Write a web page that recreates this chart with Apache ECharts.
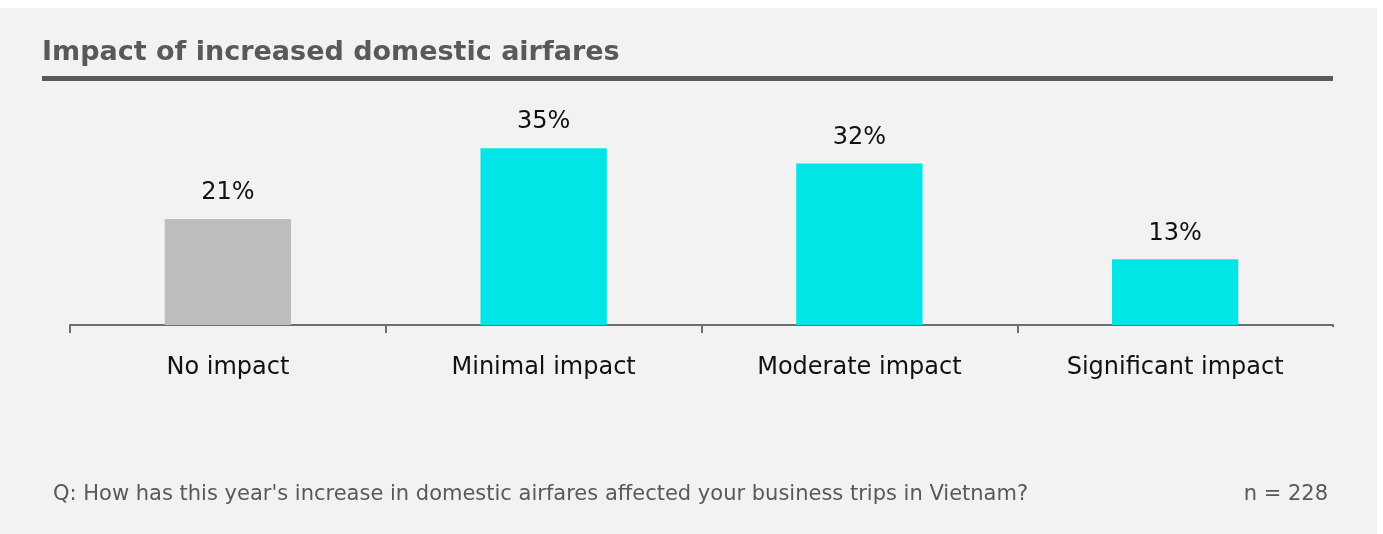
<!DOCTYPE html>
<html>
<head>
<meta charset="utf-8">
<style>
  html, body { margin: 0; padding: 0; background: #ffffff; }
  #chart { width: 1383px; height: 534px; }
</style>
<script src="https://cdn.jsdelivr.net/npm/echarts@6/dist/echarts.min.js"></script>
</head>
<body>
<div id="chart"></div>
<script>
const categories = ['No impact', 'Minimal impact', 'Moderate impact', 'Significant impact'];
const shares = [21, 35, 32, 13];
const barColors = ['#bcbdbf', '#00e6e6', '#00e6e6', '#00e6e6'];
const titleText = 'Impact of increased domestic airfares';
const questionText = "Q: How has this year's increase in domestic airfares affected your business trips in Vietnam?";
const sampleText = 'n = 228';

const FONT = '"DejaVu Sans", "Noto Sans", sans-serif';
const PANEL = '#f2f2f2';

const chart = echarts.init(document.getElementById('chart'), null, { renderer: 'canvas' });

chart.setOption({
  backgroundColor: '#ffffff',
  animation: false,
  graphic: [
    // panel and heading rule
    { type: 'rect', z: -10, shape: { x: 0, y: 8, width: 1377, height: 526 }, style: { fill: PANEL } },
    { type: 'rect', shape: { x: 42, y: 76, width: 1291, height: 5 }, style: { fill: '#58595b' } },
    // no tick at the right end of the category axis
    { type: 'rect', z: 100, shape: { x: 1327, y: 327, width: 12, height: 10 }, style: { fill: PANEL } },
    { type: 'text', x: 42, y: 53, style: { text: titleText, fill: '#58595b', font: 'bold 27px ' + FONT, verticalAlign: 'middle' } },
    { type: 'text', x: 53, y: 495, style: { text: questionText, fill: '#58595b', font: '21px ' + FONT, verticalAlign: 'middle' } },
    { type: 'text', x: 1328, y: 495, style: { text: sampleText, fill: '#58595b', font: '21px ' + FONT, align: 'right', verticalAlign: 'middle' } }
  ],
  grid: { left: 70, right: 50, top: 123, height: 202, containLabel: false },
  xAxis: {
    type: 'category',
    data: categories,
    axisLine: { lineStyle: { color: '#6d6e71', width: 2 } },
    axisTick: { show: true, length: 8, lineStyle: { color: '#6d6e71', width: 2 } },
    axisLabel: { color: '#111111', fontSize: 24, fontFamily: FONT, margin: 31 }
  },
  yAxis: {
    type: 'value', min: 0, max: 40, show: false,
    splitLine: { show: false }
  },
  series: [{
    type: 'bar',
    barWidth: '40%',
    data: shares.map((v, i) => ({ value: v, itemStyle: { color: barColors[i] } })),
    label: {
      show: true, position: 'top', distance: 14,
      formatter: p => p.value + '%',
      color: '#111111', fontSize: 24, fontFamily: FONT
    }
  }]
});
</script>
</body>
</html>
